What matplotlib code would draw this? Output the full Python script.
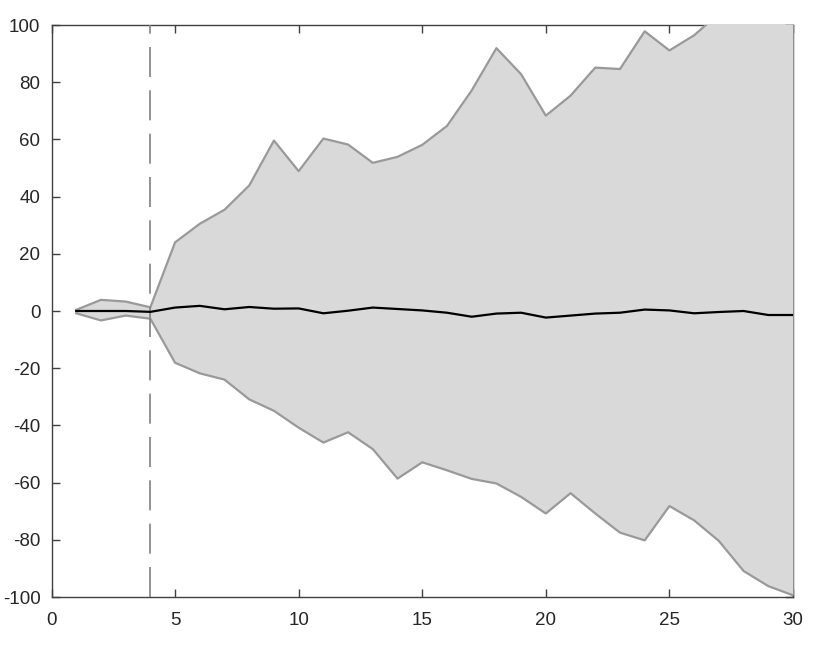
import matplotlib
matplotlib.use("Agg")
import matplotlib.pyplot as plt
import numpy as np

plt.rcParams['font.family'] = ['Liberation Sans', 'DejaVu Sans']
plt.rcParams['axes.unicode_minus'] = False

# horizon (x) and the three series
steps = np.arange(1, 31)
upper = [0.4, 3.9, 3.3, 1.3, 24.0, 30.5, 35.4, 43.9, 59.6, 48.9,
         60.3, 58.2, 51.8, 53.9, 58.1, 64.7, 77.1, 91.9, 82.8, 68.3,
         75.3, 85.1, 84.6, 97.8, 91.1, 96.4, 104.0, 110.0, 115.0, 120.0]
mean = [0.0, 0.0, 0.0, -0.3, 1.2, 1.8, 0.6, 1.4, 0.8, 0.9,
        -0.8, 0.1, 1.2, 0.7, 0.2, -0.6, -2.0, -0.9, -0.6, -2.3,
        -1.6, -0.9, -0.6, 0.5, 0.2, -0.8, -0.35, 0.0, -1.4, -1.4]
lower = [-0.8, -3.3, -1.6, -2.7, -18.1, -21.8, -24.0, -30.9, -34.9, -40.8,
         -46.0, -42.4, -48.3, -58.6, -52.9, -55.7, -58.7, -60.3, -65.0, -70.8,
         -63.7, -70.8, -77.5, -80.2, -68.2, -73.2, -80.4, -90.9, -96.2, -99.4]
split_at = 4

fig = plt.figure(figsize=(8.3, 6.48), dpi=100)
ax = fig.add_axes([51.5 / 830, 51 / 648, (793 - 51.5) / 830, (623 - 51) / 648])

ax.fill_between(steps, lower, upper, color='#d9d9d9', zorder=1, linewidth=0)
ax.plot(steps, upper, color='#999999', linewidth=1.6, zorder=2)
ax.plot(steps, lower, color='#999999', linewidth=1.6, zorder=2)
ax.plot(steps, mean, color='black', linewidth=1.6, zorder=3)
ax.axvline(split_at, color='#808080', linewidth=1.2, dashes=(18, 8), zorder=2)

ax.set_xlim(0, 30)
ax.set_ylim(-100, 100)
ax.set_xticks(np.arange(0, 31, 5))
ax.set_yticks(np.arange(-100, 101, 20))

# matlab style box with inward ticks, drawn under the data
ax.set_axisbelow(True)
for s in ax.spines.values():
    s.set_zorder(0.5)
    s.set_color('#404040')
    s.set_linewidth(1.0)
ax.tick_params(direction='in', length=5.5, width=1.0, color='#404040',
               top=True, right=True, labelsize=13.5, labelcolor='#262626')
ax.tick_params(axis='y', pad=8)
ax.tick_params(axis='x', pad=11)

fig.savefig('out.png', dpi=100)
